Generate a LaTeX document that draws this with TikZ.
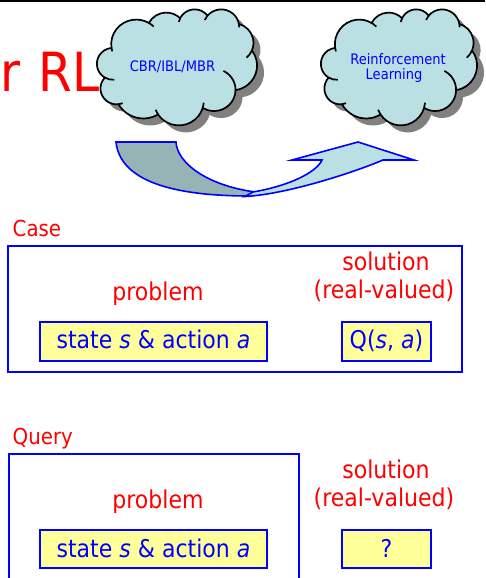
\documentclass[tikz,border=0pt]{standalone}
\usepackage{fontspec}
\setmainfont{DejaVu Sans}[FakeStretch=0.9]

\definecolor{cloudfill}{RGB}{187,224,227}
\definecolor{cloudshade}{RGB}{128,128,128}
\definecolor{bandback}{RGB}{150,179,181}
\definecolor{notepad}{RGB}{255,255,153}

% outline of a cloud on a 432 x 432 grid (y pointing down)
\newcommand\puffpath{(39.00,143.70)
  arc[x radius=67.53,y radius=91.90,start angle=-187.747,end angle=-59.635]
  arc[x radius=53.33,y radius=72.67,start angle=-152.041,end angle=-45.459]
  arc[x radius=43.65,y radius=59.45,start angle=-153.493,end angle=-37.334]
  arc[x radius=48.57,y radius=65.95,start angle=-139.712,end angle=-10.212]
  arc[x radius=53.33,y radius=72.73,start angle=-74.769,end angle=23.209]
  arc[x radius=67.75,y radius=92.20,start angle=-37.524,end angle=81.862]
  arc[x radius=57.85,y radius=78.67,start angle=0.460,end angle=121.978]
  arc[x radius=67.52,y radius=92.15,start angle=16.843,end angle=146.209]
  arc[x radius=77.20,y radius=105.43,start angle=58.986,end angle=150.177]
  arc[x radius=43.60,y radius=59.18,start angle=83.306,end angle=223.108]
  arc[x radius=43.45,y radius=59.45,start angle=120.357,end angle=264.113]
  -- cycle}

% short inner strokes where the puffs meet
\newcommand\puffcreases{%
  \draw[cloudline] (43.12,204.19) ++(85.544:43.45 and 59.45) arc[x radius=43.45,y radius=59.45,start angle=85.544,end angle=120.357];
  \draw[cloudline] (52.99,295.93) ++(68.219:43.60 and 59.18) arc[x radius=43.60,y radius=59.18,start angle=68.219,end angle=83.306];
  \draw[cloudline] (220.93,341.38) ++(146.209:67.52 and 92.15) arc[x radius=67.52,y radius=92.15,start angle=146.209,end angle=158.48];
  \draw[cloudline] (220.93,341.38) ++(4.738:67.52 and 92.15) arc[x radius=67.52,y radius=92.15,start angle=4.738,end angle=16.843];
  \draw[cloudline] (316.19,301.35) ++(-64.024:57.85 and 78.67) arc[x radius=57.85,y radius=78.67,start angle=-64.024,end angle=0.460];
  \draw[cloudline] (369.17,125.89) ++(23.209:53.33 and 72.73) arc[x radius=53.33,y radius=72.73,start angle=23.209,end angle=49.622];
  \draw[cloudline] (335.38,67.41) ++(-10.212:48.57 and 65.95) arc[x radius=48.57,y radius=65.95,start angle=-10.212,end angle=0.821];
  \draw[cloudline] (335.38,67.41) ++(-156.278:48.57 and 65.95) arc[x radius=48.57,y radius=65.95,start angle=-156.278,end angle=-139.712];
  \draw[cloudline] (263.62,60.82) ++(-167.727:43.65 and 59.45) arc[x radius=43.65,y radius=59.45,start angle=-167.727,end angle=-153.493];
  \draw[cloudline] (105.91,131.31) ++(-59.635:67.53 and 91.90) arc[x radius=67.53,y radius=91.90,start angle=-59.635,end angle=-45.718];
  \draw[cloudline] (105.91,131.31) ++(163.189:67.53 and 91.90) arc[x radius=67.53,y radius=91.90,start angle=163.189,end angle=172.253];
}

\begin{document}
\begin{tikzpicture}[x=1pt,y=-1pt,
  heading/.style={text=red, font=\fontsize{22}{26}\selectfont, inner sep=0pt, anchor=base west},
  redlabel/.style={text=red, font=\fontsize{24.5}{29}\selectfont, inner sep=0pt, anchor=base},
  frame/.style={draw=blue, line width=1.8pt, inner sep=0pt},
  ybox/.style={draw=blue, fill=notepad, line width=1.8pt, inner sep=0pt, text=blue,
    font=\fontsize{24.5}{29}\selectfont, minimum height=#1, text depth=0pt},
  cloudtext/.style={text=blue, font=\fontsize{14.5}{16}\selectfont, inner sep=0pt, anchor=base},
  cloudline/.style={draw=black, line width=1.7pt},
  band/.style={draw=blue, line width=1.6pt},
]
\useasboundingbox (0,0) rectangle (485,578);
\clip (0,0) rectangle (485,578);

% rule along the top edge
\fill[black] (0,0) rectangle (485,1.8);

% title fragment
\node[text=red, font=\fontsize{54}{60}\selectfont, inner sep=0pt, anchor=base west]
  (rl) at (0,92) {r\hspace{3pt} RL};

% left cloud: shadow, body, creases
\begin{scope}[shift={(104,16)}, x=0.37037pt, y=-0.26852pt]
  \fill[cloudshade] \puffpath;
\end{scope}
\begin{scope}[shift={(97,9)}, x=0.37037pt, y=-0.26852pt]
  \filldraw[cloudline, fill=cloudfill] \puffpath;
  \puffcreases
\end{scope}

% right cloud
\begin{scope}[shift={(328,16)}, x=0.36111pt, y=-0.26852pt]
  \fill[cloudshade] \puffpath;
\end{scope}
\begin{scope}[shift={(321,9)}, x=0.36111pt, y=-0.26852pt]
  \filldraw[cloudline, fill=cloudfill] \puffpath;
  \puffcreases
\end{scope}

\node[cloudtext] (cbr) at (172.5,71.7) {CBR/IBL/MBR};
\node[cloudtext] (rein) at (398,64.3) {Reinforcement};
\node[cloudtext] (learn) at (394,79) {Learning};

% curved band arrow: back side, then front side with head
\draw[band, fill=bandback] (116,142) -- (176,142)
  .. controls (177,162) and (205,185) .. (255,192) -- (250,196)
  .. controls (170,196) and (120,180) .. (116,142) -- cycle;
\draw[band, fill=cloudfill] (245,196.5)
  .. controls (290,194) and (360,170) .. (383,160)
  -- (414,160) -- (358,142) -- (292,160) -- (322,160)
  .. controls (316,173) and (288,186) .. (253,192) -- cycle;

% case
\node[heading] (caselbl) at (12.5,236) {Case};
\node[frame, minimum width=454pt, minimum height=126pt] (casebox) at (235,309) {};
\node[redlabel] (cprob) at (158,300) {problem};
\node[redlabel] (csol) at (386,270) {solution};
\node[redlabel] (creal) at (384,298) {(real-valued)};
\node[ybox=39pt, minimum width=227pt, text height=13.6pt] (cstate) at (153.5,341.5)
  {state \textit{s} \& action \textit{a}};
\node[ybox=39pt, minimum width=89pt, text height=13.6pt] (cq) at (386.5,341.5)
  {Q(\textit{s}, \textit{a})};

% query
\node[heading] (querylbl) at (12.5,444) {Query};
\node[frame, minimum width=290pt, minimum height=160pt, anchor=north west] (querybox) at (8,453) {};
\node[redlabel] (qprob) at (158,508.3) {problem};
\node[redlabel] (qsol) at (386,478.3) {solution};
\node[redlabel] (qreal) at (384,506.7) {(real-valued)};
\node[ybox=38pt, minimum width=227pt, text height=17.4pt] (qstate) at (153.5,549)
  {state \textit{s} \& action \textit{a}};
\node[ybox=38pt, minimum width=89pt, text height=17.4pt] (qans) at (386.5,549) {?};
\end{tikzpicture}
\end{document}
